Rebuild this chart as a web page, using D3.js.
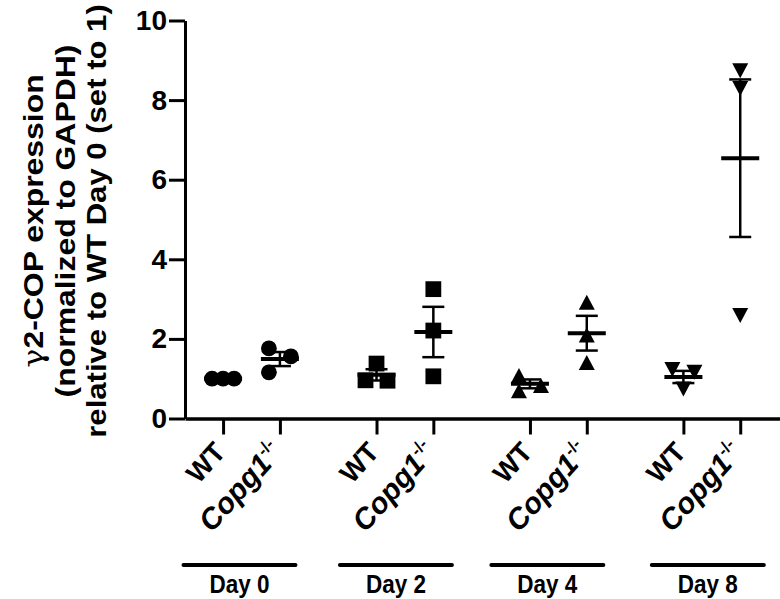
<!DOCTYPE html>
<html><head><meta charset="utf-8">
<script src="https://cdn.jsdelivr.net/npm/d3@7/dist/d3.min.js"></script>
<style>body{margin:0;background:#fff}svg{display:block}</style>
</head><body>
<svg id="c" width="780" height="599"></svg>
<script>
// ---------- data ----------
const days = ["Day 0", "Day 2", "Day 4", "Day 8"];
const genotypes = ["WT", "Copg1"];
const genotypeSup = ["", "-/-"];
const dayShapes = ["circle", "square", "triangleUp", "triangleDown"];
const wtValues = [[1.00, 1.00, 1.00], [1.38, 0.96, 0.95], [1.08, 0.83, 0.70], [1.23, 1.16, 0.74]];
const koValues = [[1.76, 1.56, 1.16], [3.25, 2.21, 1.06], [2.92, 2.10, 1.41], [8.74, 8.29, 2.59]];
const yTicks = [0, 2, 4, 6, 8, 10];
const yTitleLines = ["2-COP expression", "(normalized to GAPDH)", "relative to WT Day 0 (set to 1)"];
const yTitleGreek = "γ";

// ---------- layout ----------
const FONT = "'Liberation Sans', Arial, Helvetica, sans-serif";
const STRETCH = 1.14;          // reference type is slightly tall
const groupStride = 2.7;       // slot units between groups
const bracketShift = [-12, -9, -11, -4];
const svg = d3.select("#c");
const y = d3.scaleLinear().domain([0, 10]).range([418.5, 20.5]);
const x = d3.scaleLinear().domain([-0.67, 9.8]).range([185, 780]);

const groups = [];
days.forEach((d, g) => {
  [wtValues[g], koValues[g]].forEach((vals, k) => {
    groups.push({ day: d, g, k, slot: g * groupStride + k, values: vals, shape: dayShapes[g] });
  });
});

// ---------- symbols ----------
const symbolTypes = {
  circle: { draw(ctx) { const r = 7.9; ctx.moveTo(r, 0); ctx.arc(0, 0, r, 0, 2 * Math.PI); } },
  square: { draw(ctx) { const s = 7.9; ctx.moveTo(-s, -s); ctx.lineTo(s, -s); ctx.lineTo(s, s); ctx.lineTo(-s, s); ctx.closePath(); } },
  triangleUp: { draw(ctx) { const w = 8, h = 7.5; ctx.moveTo(0, -h); ctx.lineTo(w, h); ctx.lineTo(-w, h); ctx.closePath(); } },
  triangleDown: { draw(ctx) { const w = 8, h = 7.5; ctx.moveTo(0, h); ctx.lineTo(w, -h); ctx.lineTo(-w, -h); ctx.closePath(); } }
};

// ---------- point spreading (Prism-like scatter) ----------
function spread(values) {
  const pts = values.map(v => ({ v, py: y(v) })).sort((a, b) => a.py - b.py);
  const chains = [];
  let chain = null, prev = null;
  pts.forEach(p => {
    if (!prev || p.py - prev.py >= 16.2) { chain = [p]; chains.push(chain); p.col = 0; }
    else {
      const blocked = new Set([prev.col]);
      chain.forEach(q => { if (Math.abs(q.py - p.py) < 8) blocked.add(q.col); });
      const cands = [0, 1, -1, 2, -2];
      p.col = cands.find(c => !blocked.has(c));
      chain.push(p);
    }
    prev = p;
  });
  const W = 22;
  chains.forEach(ch => {
    const cols = Array.from(new Set(ch.map(p => p.col))).sort((a, b) => a - b);
    ch.forEach(p => {
      p.dx = cols.length === 1 ? 0 : -W / 2 + cols.indexOf(p.col) * W / (cols.length - 1);
    });
  });
  return pts;
}

// ---------- axes ----------
const yAxis = svg.append("g").attr("transform", "translate(185,0)")
  .call(d3.axisLeft(y).tickValues(yTicks).tickSize(16).tickSizeOuter(0).tickPadding(2));
yAxis.select(".domain").attr("stroke", "#000").attr("stroke-width", 3);
yAxis.selectAll(".tick line").attr("stroke", "#000").attr("stroke-width", 3);
yAxis.selectAll(".tick text").attr("font-size", 28).attr("font-weight", "bold")
  .attr("font-family", FONT).attr("fill", "#000");

const xAxis = svg.append("g").attr("transform", "translate(0,418.5)")
  .call(d3.axisBottom(x).tickValues(groups.map(d => d.slot)).tickSize(16).tickSizeOuter(0).tickFormat(""));
xAxis.select(".domain").attr("stroke", "#000").attr("stroke-width", 3.5);
xAxis.selectAll(".tick line").attr("stroke", "#000").attr("stroke-width", 3);

// ---------- x tick labels ----------
groups.forEach(d => {
  const t = svg.append("text")
    .attr("transform", `translate(${x(d.slot) + 4},453) rotate(-48)`)
    .attr("text-anchor", "end").attr("font-family", FONT).attr("font-weight", "bold")
    .attr("font-size", d.k === 0 ? 27.5 : 29.5).attr("fill", "#000");
  if (d.k === 0) t.text(genotypes[0]);
  else {
    t.append("tspan").attr("font-style", "italic").text(genotypes[1]);
    t.append("tspan").attr("font-size", 17).attr("dy", -12).text(genotypeSup[1]);
  }
});

// ---------- group brackets ----------
days.forEach((d, g) => {
  const cx = (x(g * groupStride) + x(g * groupStride + 1)) / 2 + bracketShift[g];
  svg.append("line").attr("x1", cx - 56).attr("x2", cx + 56).attr("y1", 565).attr("y2", 565)
    .attr("stroke", "#000").attr("stroke-width", 4).attr("stroke-linecap", "round");
  svg.append("text").attr("transform", `translate(${cx},593) scale(1,${STRETCH})`).attr("text-anchor", "middle")
    .attr("font-family", FONT).attr("font-weight", "bold").attr("font-size", 22.5).attr("fill", "#000").text(d);
});

// ---------- y title ----------
const titleX = [43, 74.5, 106];
yTitleLines.forEach((line, i) => {
  const t = svg.append("text").attr("transform", `translate(${titleX[i]},221) rotate(-90) scale(${i === 2 ? 1.11 : STRETCH},1)`)
    .attr("text-anchor", "middle").attr("font-family", FONT).attr("font-weight", "bold")
    .attr("font-size", 28).attr("fill", "#000");
  if (i === 0) t.append("tspan").attr("font-weight", "normal").attr("font-family", "'DejaVu Serif', serif").text(yTitleGreek);
  t.append("tspan").text(line);
});

// ---------- points & mean ± SEM ----------
groups.forEach(d => {
  const cx = x(d.slot);
  const sym = d3.symbol().type(symbolTypes[d.shape]);
  const pts = spread(d.values);
  svg.append("g").selectAll("path").data(pts).join("path")
    .attr("transform", p => `translate(${cx + p.dx},${p.py})`).attr("d", sym()).attr("fill", "#000");
  const m = d3.mean(d.values);
  const sem = d3.deviation(d.values) / Math.sqrt(d.values.length);
  const g = svg.append("g").attr("stroke", "#000");
  if (sem > 0) {
    g.append("line").attr("x1", cx).attr("x2", cx).attr("y1", y(m + sem)).attr("y2", y(m - sem)).attr("stroke-width", 2.5);
    [m + sem, m - sem].forEach(v => g.append("line").attr("x1", cx - 11).attr("x2", cx + 11)
      .attr("y1", y(v)).attr("y2", y(v)).attr("stroke-width", 2.5));
  }
  g.append("line").attr("x1", cx - 19).attr("x2", cx + 19).attr("y1", y(m)).attr("y2", y(m)).attr("stroke-width", 4);
});
</script>
</body></html>
